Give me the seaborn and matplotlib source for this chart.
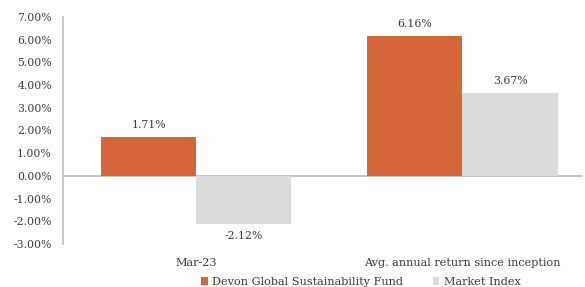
import matplotlib
matplotlib.use("Agg")
import matplotlib.pyplot as plt
import seaborn as sns
import pandas as pd
from matplotlib.patches import Patch
from matplotlib.ticker import FuncFormatter, MultipleLocator

categories = ["Mar-23", "Avg. annual return since inception"]
series_names = ["Devon Global Sustainability Fund", "Market Index"]
fund_values = [1.71, 6.16]
index_values = [-2.12, 3.67]
value_labels_fund = ["1.71%", "6.16%"]
value_labels_index = ["-2.12%", "3.67%"]

colors = ["#D4663A", "#DCDCDE"]
text_color = "#3A3A3A"

df = pd.DataFrame({
    "category": categories * 2,
    "series": [series_names[0]] * 2 + [series_names[1]] * 2,
    "value": fund_values + index_values,
})

sns.set_theme(style="white")
plt.rcParams["font.family"] = ["DejaVu Serif"]

fig = plt.figure(figsize=(5.85, 2.87), dpi=100)
ax = fig.add_axes([63 / 585, 1 - 244 / 287, (583 - 63) / 585, (244 - 17) / 287])

sns.barplot(data=df, x="category", y="value", hue="series", order=categories,
            hue_order=series_names, palette=colors, width=0.715, ax=ax,
            legend=False, saturation=1, edgecolor="none")

for cont, labs in zip(ax.containers, [value_labels_fund, value_labels_index]):
    ax.bar_label(cont, labels=labs, padding=5, fontsize=7.8, color=text_color)

ax.set_ylim(-3, 7)
ax.set_xlim(-0.5, 1.453)
ax.yaxis.set_major_locator(MultipleLocator(1))
ax.yaxis.set_major_formatter(FuncFormatter(lambda v, p: f"{v:.2f}%"))
ax.axhline(0, color="#BBBBBB", lw=1.2, zorder=0.5)

for s in ["top", "right", "bottom"]:
    ax.spines[s].set_visible(False)
ax.spines["left"].set_color("#BFBFBF")
ax.spines["left"].set_linewidth(1.2)

ax.tick_params(axis="y", length=0, pad=8, labelsize=7.8, labelcolor=text_color)
ax.tick_params(axis="x", length=0, pad=10, labelsize=8.1, labelcolor=text_color)
ax.set_xlabel("")
ax.set_ylabel("")

handles = [Patch(facecolor=c, edgecolor="none") for c in colors]
fig.legend(handles, series_names, loc="center", bbox_to_anchor=(361 / 585, 1 - 282 / 287),
           ncol=2, frameon=False, fontsize=8.1, handlelength=0.6, handleheight=0.6,
           handletextpad=0.4, columnspacing=2.6, labelcolor=text_color)

fig.savefig("out.png", dpi=100)
